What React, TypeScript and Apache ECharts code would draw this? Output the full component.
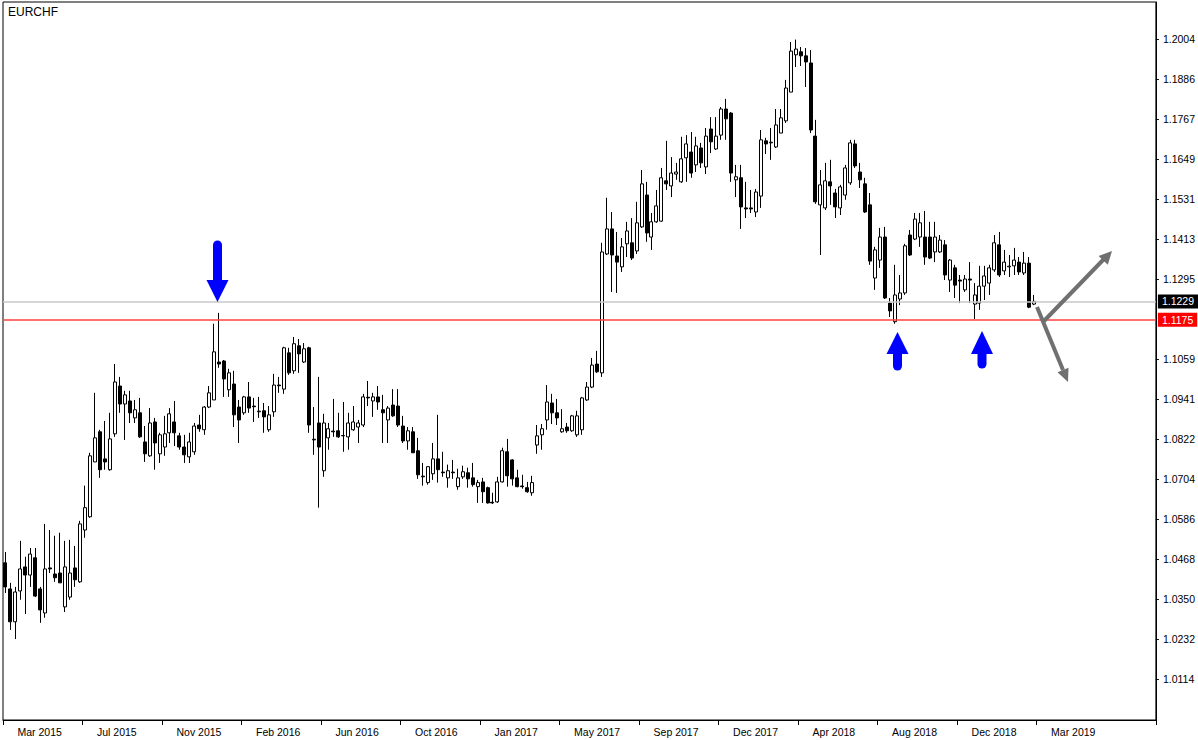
import React, { useEffect, useRef } from 'react';
import * as echarts from 'echarts';

const FONT = '"Liberation Sans", Arial, sans-serif';

// weekly bars, first week shown
const firstWeekUTC = Date.UTC(2015, 2, 29);
const totalWeeks = 232; // includes empty future weeks on the right (chart shift)

// x tick labels, one every 16 weeks
const tickLabels = [
  'Mar 2015', 'Jul 2015', 'Nov 2015', 'Feb 2016', 'Jun 2016', 'Oct 2016', 'Jan 2017',
  'May 2017', 'Sep 2017', 'Dec 2017', 'Apr 2018', 'Aug 2018', 'Dec 2018', 'Mar 2019',
];
const tickEvery = 16;

// y tick labels
const yTicks = [
  1.0114, 1.0232, 1.035, 1.0468, 1.0586, 1.0704, 1.0822, 1.0941, 1.1059,
  1.1295, 1.1413, 1.1531, 1.1649, 1.1767, 1.1886, 1.2004,
];
const yMin = 0.9993;
const yMax = 1.2113;

const currentPrice = 1.1229;
const supportLevel = 1.1175;

// [open, close, low, high]
const weeks2015 = [
  [1.0457, 1.0386, 1.0368, 1.0489], [1.038, 1.0283, 1.0259, 1.0398], [1.0283, 1.0371, 1.0232, 1.0386],
  [1.0374, 1.0439, 1.0348, 1.0522], [1.0445, 1.0421, 1.0306, 1.0475], [1.0421, 1.0483, 1.0386, 1.0501],
  [1.0472, 1.0359, 1.0356, 1.0501], [1.038, 1.0318, 1.028, 1.0386], [1.0309, 1.0439, 1.0295, 1.0572],
  [1.0442, 1.0439, 1.0427, 1.0554], [1.0424, 1.0413, 1.0401, 1.0537], [1.0427, 1.0398, 1.0398, 1.0546],
  [1.0327, 1.0445, 1.0312, 1.0522], [1.0356, 1.0427, 1.0348, 1.0525], [1.0442, 1.0407, 1.0386, 1.0507],
  [1.0401, 1.0572, 1.0398, 1.0581], [1.0554, 1.062, 1.0531, 1.0685], [1.0593, 1.0773, 1.059, 1.0782],
  [1.0755, 1.0826, 1.0755, 1.0959], [1.0844, 1.0732, 1.0708, 1.085], [1.0764, 1.0755, 1.0732, 1.0876],
  [1.0732, 1.0823, 1.0729, 1.09], [1.0838, 1.0991, 1.0829, 1.1044], [1.0979, 1.0926, 1.09, 1.1006],
  [1.0926, 1.0953, 1.082, 1.0965], [1.0935, 1.09, 1.087, 1.0965], [1.0885, 1.0909, 1.087, 1.0938],
  [1.09, 1.0829, 1.0826, 1.0944], [1.0814, 1.0779, 1.0755, 1.0861], [1.0773, 1.087, 1.077, 1.0914],
  [1.0873, 1.0811, 1.0732, 1.0885], [1.0779, 1.0835, 1.0752, 1.0841], [1.0799, 1.0838, 1.0773, 1.0891],
  [1.0841, 1.0897, 1.0811, 1.0914], [1.0873, 1.0841, 1.0802, 1.0935], [1.0832, 1.0799, 1.0791, 1.0841],
  [1.0799, 1.0776, 1.0752, 1.0835], [1.077, 1.0814, 1.0752, 1.0841], [1.0785, 1.0861, 1.0776, 1.087],
  [1.0864, 1.0853, 1.0844, 1.0894],
];

const weeks2016 = [
  [1.085, 1.0917, 1.0835, 1.092], [1.0917, 1.0959, 1.0914, 1.0979], [1.0938, 1.108, 1.0938, 1.1163],
  [1.105, 1.1044, 1.1033, 1.1195], [1.1053, 1.1, 1.0947, 1.1056], [1.0968, 1.1018, 1.0947, 1.103],
  [1.0985, 1.0894, 1.0858, 1.1024], [1.0917, 1.0879, 1.0811, 1.0938], [1.09, 1.0947, 1.0894, 1.095],
  [1.0947, 1.0914, 1.09, 1.0991], [1.092, 1.0918, 1.0873, 1.0944], [1.0903, 1.0905, 1.0885, 1.0947],
  [1.0906, 1.0888, 1.0841, 1.0929], [1.085, 1.0894, 1.0844, 1.092], [1.0903, 1.0982, 1.0888, 1.1015],
  [1.0982, 1.098, 1.0959, 1.1006], [1.097, 1.1092, 1.0956, 1.1095], [1.1077, 1.1018, 1.1012, 1.1092],
  [1.1024, 1.1104, 1.1015, 1.1124], [1.1098, 1.1074, 1.1018, 1.1118], [1.105, 1.1089, 1.1047, 1.1106],
  [1.1092, 1.0864, 1.0841, 1.1095], [1.0822, 1.082, 1.0776, 1.0917], [1.087, 1.0799, 1.062, 1.1006],
  [1.0729, 1.087, 1.0711, 1.0897], [1.0826, 1.0853, 1.0791, 1.087], [1.0846, 1.0844, 1.0829, 1.0941],
  [1.0847, 1.0829, 1.0826, 1.09], [1.0833, 1.0832, 1.0785, 1.0932], [1.0829, 1.087, 1.0791, 1.09],
  [1.085, 1.0873, 1.0847, 1.092], [1.0858, 1.087, 1.0811, 1.0879], [1.0864, 1.0947, 1.0858, 1.0956],
  [1.0946, 1.0944, 1.092, 1.0994], [1.0935, 1.0947, 1.0888, 1.0959], [1.0947, 1.0932, 1.0909, 1.0979],
  [1.0909, 1.09, 1.0811, 1.0953], [1.0879, 1.0914, 1.0811, 1.092], [1.0923, 1.0891, 1.0888, 1.097],
  [1.092, 1.0864, 1.0858, 1.097], [1.0861, 1.0817, 1.0811, 1.0891], [1.0817, 1.0847, 1.0791, 1.0858],
  [1.0844, 1.0782, 1.0782, 1.0858], [1.0788, 1.0717, 1.0705, 1.0826], [1.0713, 1.0711, 1.0685, 1.0752],
  [1.0694, 1.0741, 1.0688, 1.0743], [1.072, 1.0764, 1.0702, 1.0811], [1.0764, 1.0732, 1.0694, 1.0894],
  [1.0725, 1.0723, 1.0711, 1.0785], [1.0708, 1.0729, 1.0679, 1.0747], [1.0725, 1.0723, 1.0705, 1.0761],
  [1.0682, 1.0708, 1.0673, 1.0735],
];

const weeks2017 = [
  [1.0711, 1.0726, 1.0705, 1.0744], [1.0723, 1.0705, 1.0679, 1.0738], [1.0708, 1.0688, 1.0682, 1.0752],
  [1.0682, 1.0694, 1.0634, 1.0702], [1.0696, 1.0667, 1.0634, 1.0708], [1.0679, 1.0634, 1.0632, 1.0682],
  [1.0636, 1.0634, 1.0631, 1.0664], [1.0637, 1.0696, 1.0634, 1.0711], [1.0696, 1.0788, 1.0694, 1.0797],
  [1.0785, 1.0714, 1.0682, 1.0823], [1.0761, 1.0705, 1.0685, 1.0763], [1.0708, 1.0682, 1.068, 1.0732],
  [1.0684, 1.0682, 1.0676, 1.0717], [1.0679, 1.0667, 1.0664, 1.0696], [1.0664, 1.0694, 1.0655, 1.0714],
  [1.0805, 1.0832, 1.0779, 1.0864], [1.0835, 1.0853, 1.0791, 1.0867], [1.0879, 1.0932, 1.085, 1.0982],
  [1.0929, 1.09, 1.0867, 1.0956], [1.09, 1.0885, 1.0864, 1.0941], [1.0844, 1.0853, 1.0841, 1.0911],
  [1.0858, 1.0847, 1.0841, 1.087], [1.0847, 1.0891, 1.0844, 1.0894], [1.0835, 1.0891, 1.0829, 1.0906],
  [1.085, 1.0944, 1.0835, 1.0947], [1.0938, 1.0976, 1.0935, 1.0991], [1.0976, 1.1041, 1.0973, 1.1062],
  [1.1044, 1.1021, 1.1018, 1.1083], [1.1018, 1.1375, 1.1006, 1.1402], [1.1369, 1.1443, 1.1366, 1.1535],
  [1.1443, 1.1366, 1.1257, 1.1493], [1.1363, 1.1345, 1.1254, 1.1434], [1.1331, 1.139, 1.1316, 1.1416],
  [1.1399, 1.1437, 1.136, 1.1464], [1.1402, 1.1357, 1.1351, 1.1475], [1.1378, 1.1461, 1.1369, 1.1523],
  [1.1449, 1.1576, 1.1446, 1.1617], [1.1543, 1.1431, 1.1405, 1.1582], [1.1419, 1.1464, 1.1381, 1.149],
  [1.1464, 1.1511, 1.1461, 1.1558], [1.1466, 1.1594, 1.1464, 1.1623], [1.1585, 1.1576, 1.1558, 1.1703],
  [1.157, 1.1608, 1.1537, 1.1655], [1.1605, 1.1611, 1.1588, 1.1638], [1.1582, 1.165, 1.1579, 1.1715],
  [1.1653, 1.1694, 1.1582, 1.172], [1.167, 1.1608, 1.1594, 1.1729], [1.1632, 1.1688, 1.1611, 1.1715],
  [1.1682, 1.1638, 1.1623, 1.1697], [1.1626, 1.1717, 1.1605, 1.1741], [1.1738, 1.17, 1.1667, 1.1773],
  [1.1679, 1.1717, 1.1676, 1.1773],
];

const weeks2018 = [
  [1.172, 1.1797, 1.1706, 1.1803], [1.1797, 1.1768, 1.1706, 1.1827], [1.1785, 1.1608, 1.1582, 1.1788],
  [1.1588, 1.1597, 1.1537, 1.1632], [1.1594, 1.1508, 1.1443, 1.1632], [1.1505, 1.1502, 1.1475, 1.1582],
  [1.1505, 1.1502, 1.149, 1.1558], [1.1493, 1.1552, 1.1478, 1.1561], [1.154, 1.1706, 1.1505, 1.1735],
  [1.1703, 1.1694, 1.1664, 1.1712], [1.1697, 1.1699, 1.1647, 1.1741], [1.1685, 1.175, 1.1682, 1.1797],
  [1.1726, 1.1771, 1.1726, 1.1797], [1.1762, 1.1859, 1.1756, 1.1883], [1.1847, 1.1968, 1.1847, 1.1995],
  [1.1957, 1.1974, 1.1921, 1.2002], [1.1966, 1.1954, 1.1924, 1.198], [1.1954, 1.1936, 1.1862, 1.1977],
  [1.1933, 1.1735, 1.1726, 1.1971], [1.1717, 1.1523, 1.1517, 1.1765], [1.1514, 1.1573, 1.1366, 1.1617],
  [1.1505, 1.1585, 1.1499, 1.1638], [1.1582, 1.157, 1.1514, 1.1647], [1.1549, 1.1508, 1.1475, 1.1561],
  [1.1505, 1.1567, 1.1484, 1.1573], [1.1543, 1.1623, 1.1529, 1.1632], [1.1579, 1.1697, 1.1573, 1.1706],
  [1.1694, 1.1629, 1.1623, 1.1706], [1.1611, 1.1588, 1.1564, 1.1638], [1.1576, 1.1493, 1.149, 1.1594],
  [1.1514, 1.1348, 1.1337, 1.1549], [1.1298, 1.1381, 1.1263, 1.139], [1.1351, 1.1419, 1.1328, 1.1446],
  [1.1419, 1.1239, 1.1236, 1.1449], [1.1224, 1.1201, 1.1183, 1.1239], [1.1169, 1.1248, 1.1163, 1.1337],
  [1.1236, 1.1254, 1.1218, 1.1307], [1.1254, 1.1393, 1.1248, 1.1399], [1.1425, 1.1366, 1.1363, 1.144],
  [1.1413, 1.1472, 1.141, 1.149], [1.1419, 1.1461, 1.139, 1.149], [1.1419, 1.136, 1.1337, 1.1496],
  [1.1419, 1.1357, 1.1354, 1.1464], [1.1375, 1.1419, 1.1345, 1.1464], [1.1375, 1.141, 1.1372, 1.1425],
  [1.1396, 1.1307, 1.1292, 1.141], [1.1292, 1.1351, 1.1257, 1.1354], [1.1328, 1.1277, 1.1239, 1.1337],
  [1.1292, 1.1289, 1.1224, 1.1307], [1.1263, 1.1295, 1.1257, 1.1307], [1.1295, 1.1292, 1.1224, 1.1345],
  [1.1221, 1.1248, 1.1177, 1.1283],
];

const weeks2019 = [
  [1.1224, 1.1274, 1.1204, 1.1334], [1.1274, 1.1304, 1.1233, 1.1334], [1.1283, 1.1328, 1.1248, 1.1337],
  [1.1322, 1.1402, 1.1316, 1.1425], [1.1396, 1.1307, 1.1301, 1.1434], [1.1319, 1.1345, 1.1307, 1.1381],
  [1.1331, 1.1333, 1.1301, 1.1366], [1.1334, 1.1351, 1.1307, 1.1387], [1.1345, 1.1316, 1.1307, 1.136],
  [1.1313, 1.1342, 1.1307, 1.1375], [1.1342, 1.1212, 1.1209, 1.136], [1.1221, 1.1229, 1.1218, 1.1248],
];

function priceLevel(value: number, lineColor: string, boxColor: string, width: number) {
  return {
    type: 'line',
    data: [],
    silent: true,
    markLine: {
      silent: true,
      precision: 4,
      symbol: ['none', 'none'],
      animation: false,
      lineStyle: { color: lineColor, width, type: 'solid' },
      label: {
        show: true,
        position: 'end',
        distance: 2,
        formatter: () => value.toFixed(4),
        backgroundColor: boxColor,
        color: '#fff',
        padding: [2, 4, 1, 4],
        fontFamily: FONT,
        fontSize: 10.5,
      },
      data: [{ yAxis: value }],
    },
  };
}

function buildOption() {
  const candles = [...weeks2015, ...weeks2016, ...weeks2017, ...weeks2018, ...weeks2019];
  const categories: string[] = [];
  for (let i = 0; i < totalWeeks; i++) {
    categories.push(new Date(firstWeekUTC + i * 7 * 86400000).toISOString().slice(0, 10));
  }
  const isTick = (i: number) => i % tickEvery === 0 && i / tickEvery < tickLabels.length;

  const blue = '#0000ff';
  const grey = '#707070';

  return {
    animation: false,
    backgroundColor: '#ffffff',
    title: {
      text: 'EURCHF',
      left: 8,
      top: 6,
      padding: 0,
      textStyle: { fontSize: 12, fontWeight: 'normal', color: '#000', fontFamily: FONT },
    },
    grid: {
      left: 3,
      right: 38,
      top: 2,
      bottom: 20,
      show: true,
      borderColor: '#000',
      borderWidth: 1,
      backgroundColor: 'transparent',
    },
    xAxis: {
      type: 'category',
      data: categories,
      boundaryGap: true,
      axisLine: { show: true, lineStyle: { color: '#000', width: 1 } },
      axisTick: {
        show: true,
        interval: (i: number) => isTick(i),
        length: 5,
        lineStyle: { color: '#000' },
      },
      axisLabel: {
        interval: (i: number) => isTick(i),
        formatter: (_v: string, i: number) => (isTick(i) ? tickLabels[i / tickEvery] : ''),
        align: 'left',
        padding: [0, 0, 0, 12],
        margin: 6,
        color: '#000',
        fontFamily: FONT,
        fontSize: 10.5,
      },
      splitLine: { show: false },
    },
    yAxis: {
      type: 'value',
      position: 'right',
      min: yMin,
      max: yMax,
      scale: true,
      axisLine: { show: true, lineStyle: { color: '#000', width: 1 } },
      axisTick: { show: true, customValues: yTicks, length: 3, lineStyle: { color: '#000' } },
      axisLabel: {
        customValues: yTicks,
        formatter: (v: number) => v.toFixed(4),
        margin: 7,
        color: '#000',
        fontFamily: FONT,
        fontSize: 10.5,
      },
      splitLine: { show: false },
    },
    series: [
      priceLevel(currentPrice, '#c8c8c8', '#000000', 1.5),
      priceLevel(supportLevel, '#ff4040', '#ff0000', 1.5),
      {
        type: 'candlestick',
        data: candles,
        barWidth: 3.5,
        z: 3,
        itemStyle: {
          color: '#ffffff',
          color0: '#000000',
          borderColor: '#000000',
          borderColor0: '#000000',
          borderWidth: 1,
        },
      },
    ],
    graphic: [
      // blue arrow pointing down at the 2016 high
      { type: 'line', z: 100, shape: { x1: 217.5, y1: 245, x2: 217.5, y2: 283 }, style: { stroke: blue, lineWidth: 9, lineCap: 'round' } },
      { type: 'polygon', z: 100, shape: { points: [[206.5, 280], [228.5, 280], [217.5, 302]] }, style: { fill: blue } },
      // blue arrows pointing up at the two lows
      { type: 'line', z: 100, shape: { x1: 897.5, y1: 352, x2: 897.5, y2: 366 }, style: { stroke: blue, lineWidth: 9, lineCap: 'round' } },
      { type: 'polygon', z: 100, shape: { points: [[886.5, 354], [908.5, 354], [897.5, 332]] }, style: { fill: blue } },
      { type: 'line', z: 100, shape: { x1: 982, y1: 352, x2: 982, y2: 364 }, style: { stroke: blue, lineWidth: 9, lineCap: 'round' } },
      { type: 'polygon', z: 100, shape: { points: [[971, 354], [993, 354], [982, 331]] }, style: { fill: blue } },
      // grey scenario arrows
      { type: 'line', z: 100, shape: { x1: 1043, y1: 322, x2: 1103.5, y2: 259.5 }, style: { stroke: grey, lineWidth: 4 } },
      { type: 'polygon', z: 100, shape: { points: [[1112, 251], [1107.8, 264.8], [1098.6, 255.9]] }, style: { fill: grey } },
      { type: 'line', z: 100, shape: { x1: 1037, y1: 307, x2: 1063, y2: 370 }, style: { stroke: grey, lineWidth: 4 } },
      { type: 'polygon', z: 100, shape: { points: [[1068, 382], [1068.5, 367.7], [1057.5, 372.3]] }, style: { fill: grey } },
    ],
  };
}

export default function App() {
  const ref = useRef<HTMLDivElement>(null);
  useEffect(() => {
    document.body.style.margin = '0';
    const chart = echarts.init(ref.current as HTMLDivElement, null, { renderer: 'svg' });
    chart.setOption(buildOption() as any);
    return () => chart.dispose();
  }, []);
  return (
    <div
      ref={ref}
      style={{ width: 1198, height: 740, position: 'absolute', left: 0, top: 0, background: '#fff' }}
    />
  );
}
